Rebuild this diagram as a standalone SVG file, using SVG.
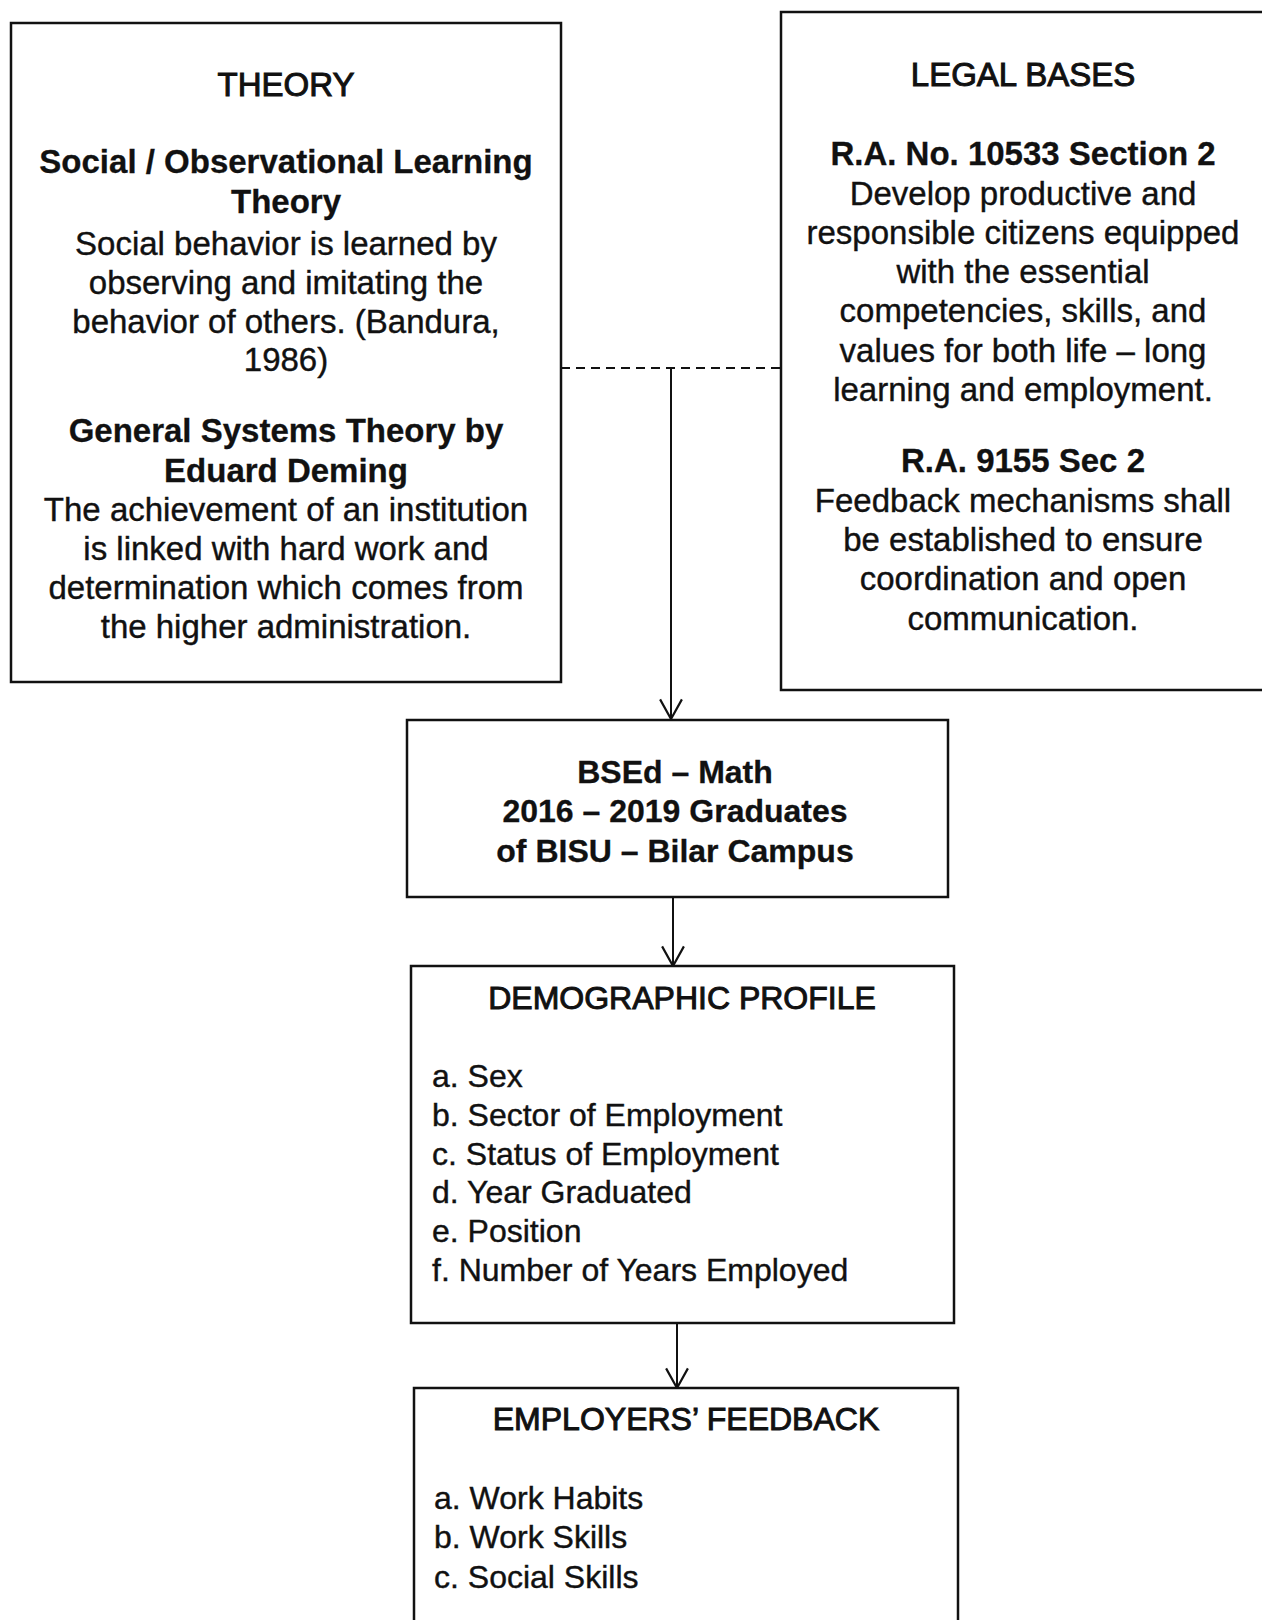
<svg xmlns="http://www.w3.org/2000/svg" width="1262" height="1620" viewBox="0 0 1262 1620">
<defs>
<style>
.box{fill:#fff;stroke:#111;stroke-width:2.5}
.t{font-family:"Liberation Sans",Arial,sans-serif;fill:#111;font-size:33px;text-anchor:middle;stroke:#111;stroke-width:0.4}
.h{stroke-width:1}
.b{font-weight:bold;stroke-width:0.3}
.l{font-family:"Liberation Sans",Arial,sans-serif;fill:#111;font-size:32px;stroke:#111;stroke-width:0.4}
.c{fill:none;stroke:#111;stroke-width:2}
.d{fill:none;stroke:#111;stroke-width:2.2;stroke-dasharray:9 6}
</style>
<marker id="arr" markerWidth="24" markerHeight="24" refX="20" refY="11" orient="auto" markerUnits="userSpaceOnUse" viewBox="0 0 22 22">
<path d="M2,1 L20,11 L2,21" fill="none" stroke="#111" stroke-width="2"/>
</marker>
</defs>
<rect width="1262" height="1620" fill="#fff"/>

<g id="connectors">
<line class="d" x1="561" y1="368" x2="781" y2="368"/>
<line class="c" x1="671" y1="368" x2="671" y2="719" marker-end="url(#arr)"/>
<line class="c" x1="673" y1="897" x2="673" y2="966" marker-end="url(#arr)"/>
<line class="c" x1="677" y1="1323" x2="677" y2="1388" marker-end="url(#arr)"/>
</g>

<g id="theory">
<rect class="box" x="11" y="23" width="550" height="659"/>
<text class="t h" x="286" y="96">THEORY</text>
<text class="t b" x="286" y="173">Social / Observational Learning</text>
<text class="t b" x="286" y="213">Theory</text>
<text class="t" x="286" y="255">Social behavior is learned by</text>
<text class="t" x="286" y="294">observing and imitating the</text>
<text class="t" x="286" y="333">behavior of others. (Bandura,</text>
<text class="t" x="286" y="371">1986)</text>
<text class="t b" x="286" y="442">General Systems Theory by</text>
<text class="t b" x="286" y="482">Eduard Deming</text>
<text class="t" x="286" y="521">The achievement of an institution</text>
<text class="t" x="286" y="560">is linked with hard work and</text>
<text class="t" x="286" y="599">determination which comes from</text>
<text class="t" x="286" y="638">the higher administration.</text>
</g>

<g id="legal">
<rect class="box" x="781" y="12" width="490" height="678"/>
<text class="t h" x="1023" y="86">LEGAL BASES</text>
<text class="t b" x="1023" y="165">R.A. No. 10533 Section 2</text>
<text class="t" x="1023" y="205">Develop productive and</text>
<text class="t" x="1023" y="244">responsible citizens equipped</text>
<text class="t" x="1023" y="283">with the essential</text>
<text class="t" x="1023" y="322">competencies, skills, and</text>
<text class="t" x="1023" y="362">values for both life – long</text>
<text class="t" x="1023" y="401">learning and employment.</text>
<text class="t b" x="1023" y="472">R.A. 9155 Sec 2</text>
<text class="t" x="1023" y="512">Feedback mechanisms shall</text>
<text class="t" x="1023" y="551">be established to ensure</text>
<text class="t" x="1023" y="590">coordination and open</text>
<text class="t" x="1023" y="630">communication.</text>
</g>

<g id="graduates">
<rect class="box" x="407" y="720" width="541" height="177"/>
<text class="t b" x="675" y="783" style="font-size:32px">BSEd – Math</text>
<text class="t b" x="675" y="822" style="font-size:32px">2016 – 2019 Graduates</text>
<text class="t b" x="675" y="862" style="font-size:32px">of BISU – Bilar Campus</text>
</g>

<g id="demographic">
<rect class="box" x="411" y="966" width="543" height="357"/>
<text class="t h" x="682" y="1009" style="font-size:32px">DEMOGRAPHIC PROFILE</text>
<text class="l" x="432" y="1087">a. Sex</text>
<text class="l" x="432" y="1126">b. Sector of Employment</text>
<text class="l" x="432" y="1165">c. Status of Employment</text>
<text class="l" x="432" y="1203">d. Year Graduated</text>
<text class="l" x="432" y="1242">e. Position</text>
<text class="l" x="432" y="1281">f. Number of Years Employed</text>
</g>

<g id="employers">
<rect class="box" x="414" y="1388" width="544" height="260"/>
<text class="t h" x="686" y="1430" style="font-size:32px">EMPLOYERS’ FEEDBACK</text>
<text class="l" x="434" y="1509">a. Work Habits</text>
<text class="l" x="434" y="1548">b. Work Skills</text>
<text class="l" x="434" y="1588">c. Social Skills</text>
</g>
</svg>
